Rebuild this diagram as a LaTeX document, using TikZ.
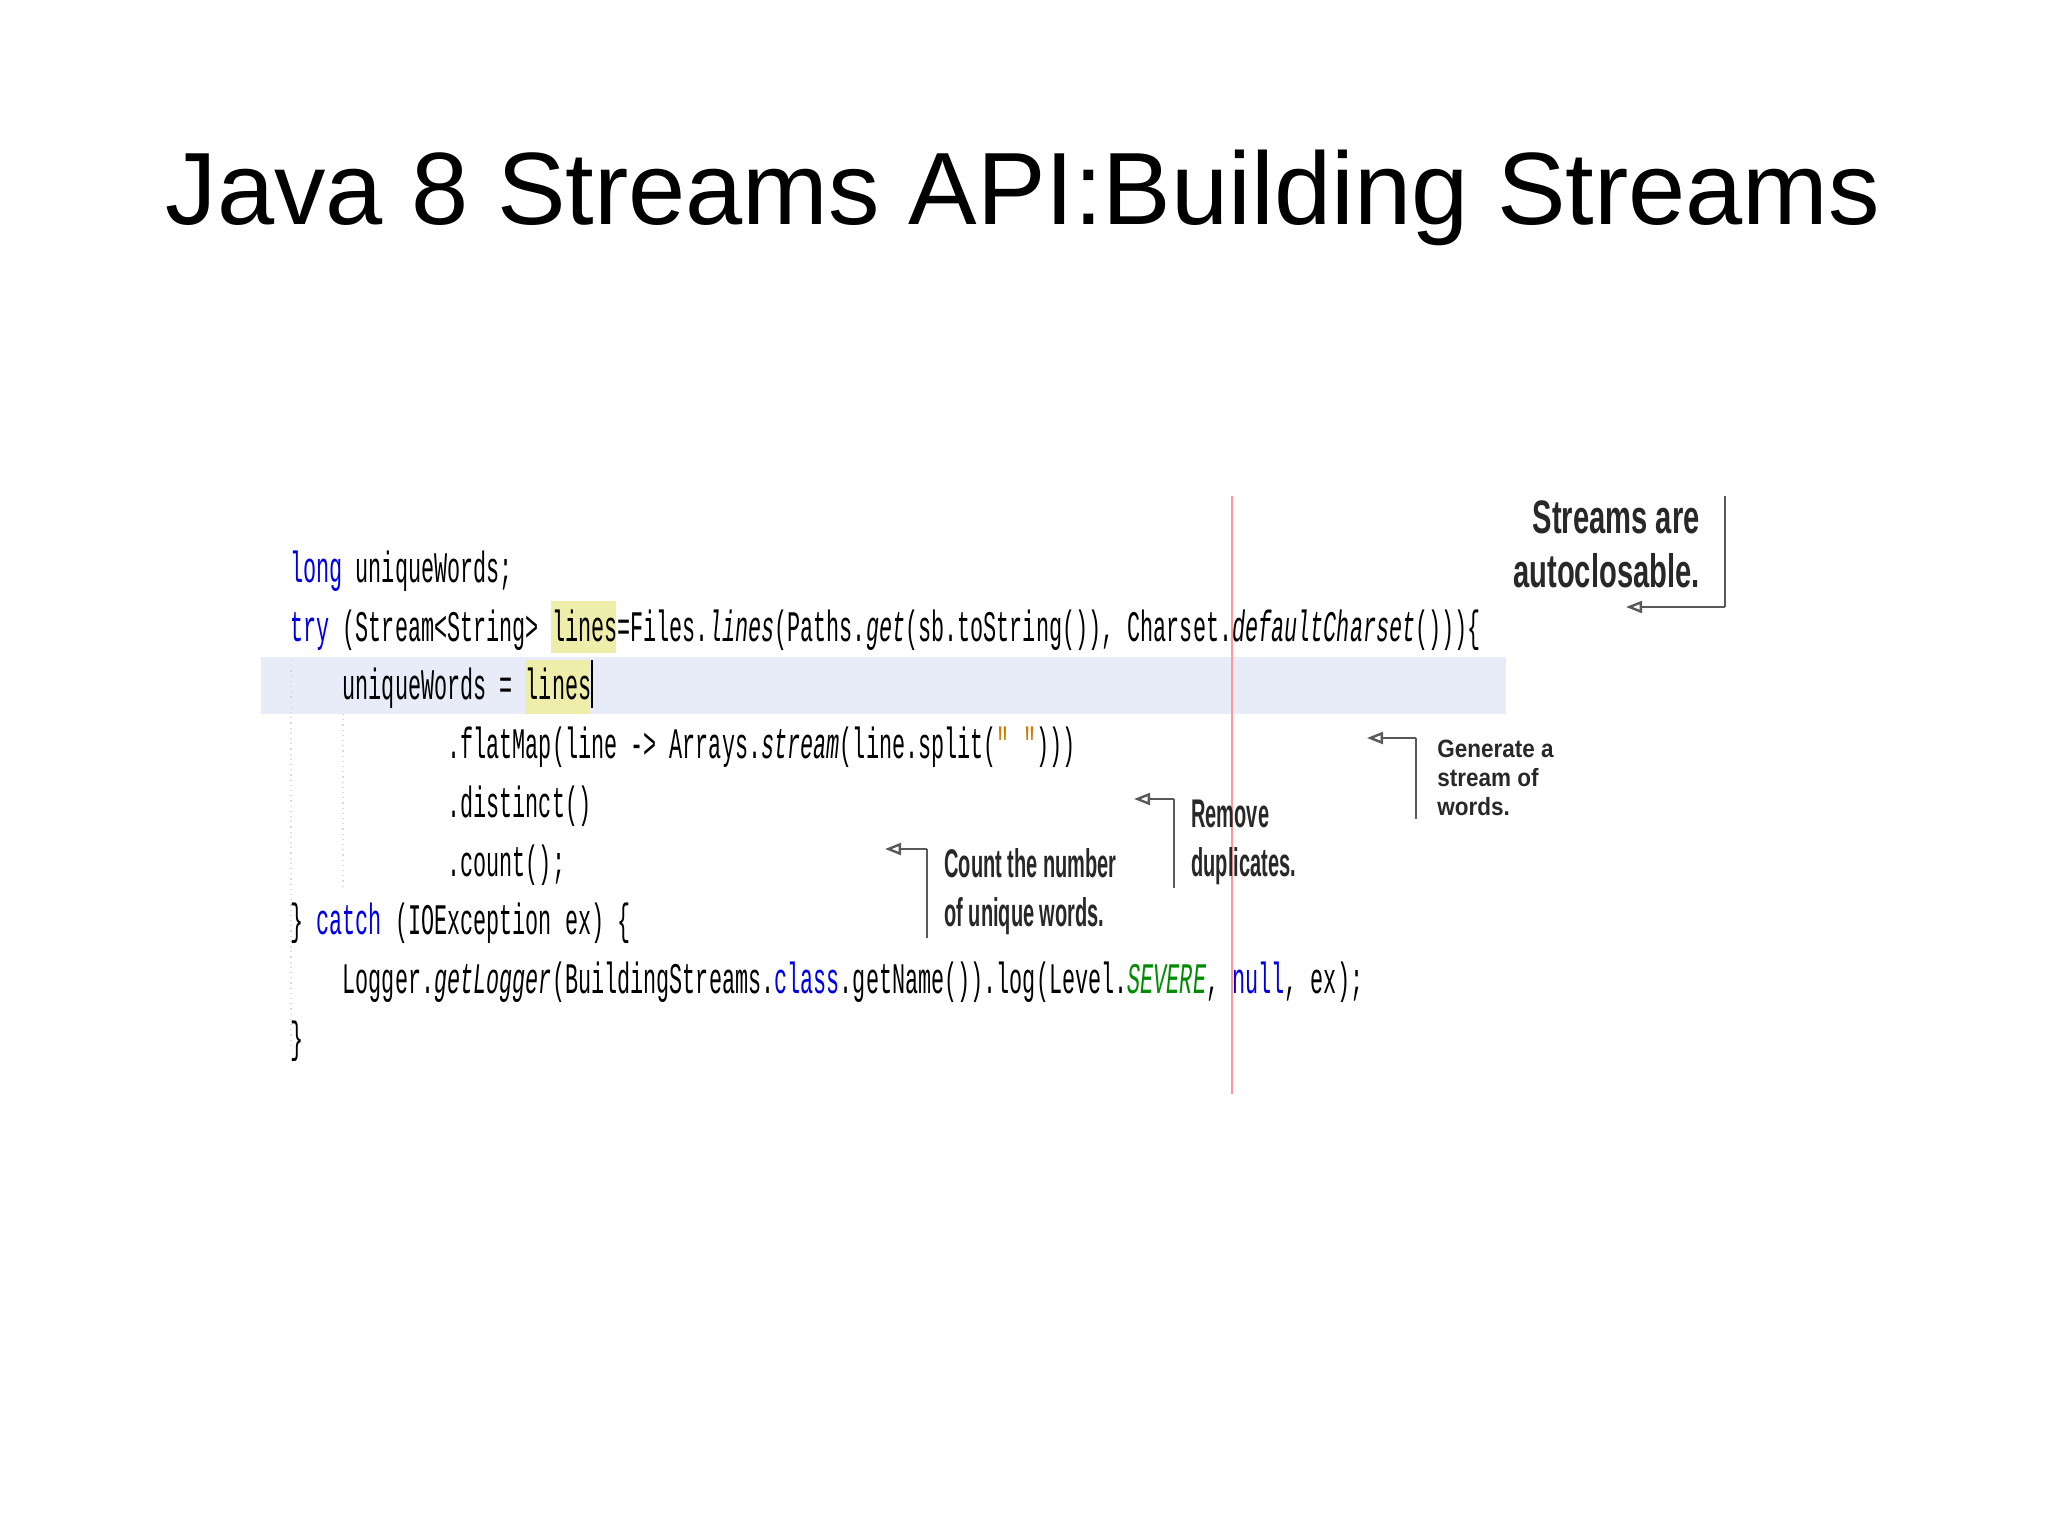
\documentclass[tikz,border=0pt]{standalone}
\usepackage{fontspec}
\setmainfont{Liberation Sans}
\setmonofont{Liberation Mono}
\usetikzlibrary{arrows.meta}
\definecolor{kw}{RGB}{0,0,230}
\definecolor{grn}{RGB}{0,140,0}
\definecolor{str}{RGB}{206,123,0}
\definecolor{band}{RGB}{232,236,248}
\definecolor{yel}{RGB}{238,238,170}
\definecolor{ann}{RGB}{40,40,40}
\newcommand{\kwd}[1]{\textcolor{kw}{#1}}
\tikzset{
  code/.style={anchor=base west,inner sep=0pt,font=\ttfamily\fontsize{21.8}{24}\selectfont},
  bigann/.style={inner sep=0pt,align=left,text=ann,font=\bfseries\fontsize{20}{22.5}\selectfont},
  smallann/.style={inner sep=0pt,align=left,text=ann,font=\bfseries\fontsize{12.5}{14.5}\selectfont},
  brk/.style={draw=black!65,line width=1.2pt},
  arr/.style={brk,-{Triangle[open,length=8pt,width=6pt]}}
}
\newcommand{\cl}[4][]{\node[code] (#2) at (#3) {\scalebox{0.5}[1]{#4}};}
\begin{document}
\begin{tikzpicture}[x=0.5pt,y=-0.5pt]
\useasboundingbox (0,0) rectangle (2048,1535);
\fill[white] (0,0) rectangle (2048,1535);
\node[inner sep=0pt,anchor=base,font=\fontsize{51.4}{58}\selectfont] (title) at (1023,225) {Java 8 Streams API:Building Streams};
% backgrounds
\fill[band] (261,657) rectangle (1506,714);
\fill[yel] (551,601) rectangle (616,653);
\fill[yel] (525,660) rectangle (590,714);
\draw[red!40,line width=0.6pt] (1232,496) -- (1232,1094);
\draw[black!15,dotted,line width=0.6pt] (291,660) -- (291,1050);
\draw[black!15,dotted,line width=0.6pt] (343,714) -- (343,890);
% code
\cl{c1}{290,582}{\kwd{long} uniqueWords;}
\cl{c2}{290,641}{\kwd{try} (Stream<String> lines=Files.\textit{lines}(Paths.\textit{get}(sb.toString()), Charset.\textit{defaultCharset}()))\{}
\cl{c3}{290,699}{\ \ \ \ uniqueWords = lines\rule[-0.2em]{0.06em}{1.1em}}
\cl{c4}{290,758}{\ \ \ \ \ \ \ \ \ \ \ \ .flatMap(line -> Arrays.\textit{stream}(line.split(\textcolor{str}{" "})))}
\cl{c5}{290,817}{\ \ \ \ \ \ \ \ \ \ \ \ .distinct()}
\cl{c6}{290,876}{\ \ \ \ \ \ \ \ \ \ \ \ .count();}
\cl{c7}{290,934}{\} \kwd{catch} (IOException ex) \{}
\cl{c8}{290,993}{\ \ \ \ Logger.\textit{getLogger}(BuildingStreams.\kwd{class}.getName()).log(Level.\textcolor{grn}{\textit{SEVERE}}, \kwd{null}, ex);}
\cl{c9}{290,1052}{\}}
% annotations
\node[bigann,font=\bfseries\fontsize{23.5}{25}\selectfont,align=right,anchor=north east] (a1) at (1700,500) {\scalebox{0.62}[1]{Streams are}\\[2pt]\scalebox{0.62}[1]{autoclosable.}};
\coordinate (a1t) at (1725,496);
\coordinate (a1b) at (1725,607);
\coordinate (a1e) at (1626,607);
\draw[brk] (a1t) -- (a1b);
\draw[arr] (a1b) -- (a1e);

\node[smallann,anchor=north west] (a2) at (1437,740) {\scalebox{0.9}[1]{Generate a}\\\scalebox{0.9}[1]{stream of}\\\scalebox{0.9}[1]{words.}};
\coordinate (a2b) at (1416,819);
\coordinate (a2t) at (1416,738);
\coordinate (a2e) at (1367,738);
\draw[brk] (a2b) -- (a2t);
\draw[arr] (a2t) -- (a2e);

\node[bigann,anchor=north west] (a3) at (1191,800) {\scalebox{0.5}[1]{Remove}\\[2pt]\scalebox{0.5}[1]{duplicates.}};
\coordinate (a3b) at (1174,888);
\coordinate (a3t) at (1174,799);
\coordinate (a3e) at (1134,799);
\draw[brk] (a3b) -- (a3t);
\draw[arr] (a3t) -- (a3e);

\node[bigann,anchor=north west] (a4) at (944,848) {\scalebox{0.5}[1]{Count the number}\\[2pt]\scalebox{0.5}[1]{of unique words.}};
\coordinate (a4b) at (927,938);
\coordinate (a4t) at (927,849);
\coordinate (a4e) at (885,849);
\draw[brk] (a4b) -- (a4t);
\draw[arr] (a4t) -- (a4e);
\end{tikzpicture}
\end{document}
